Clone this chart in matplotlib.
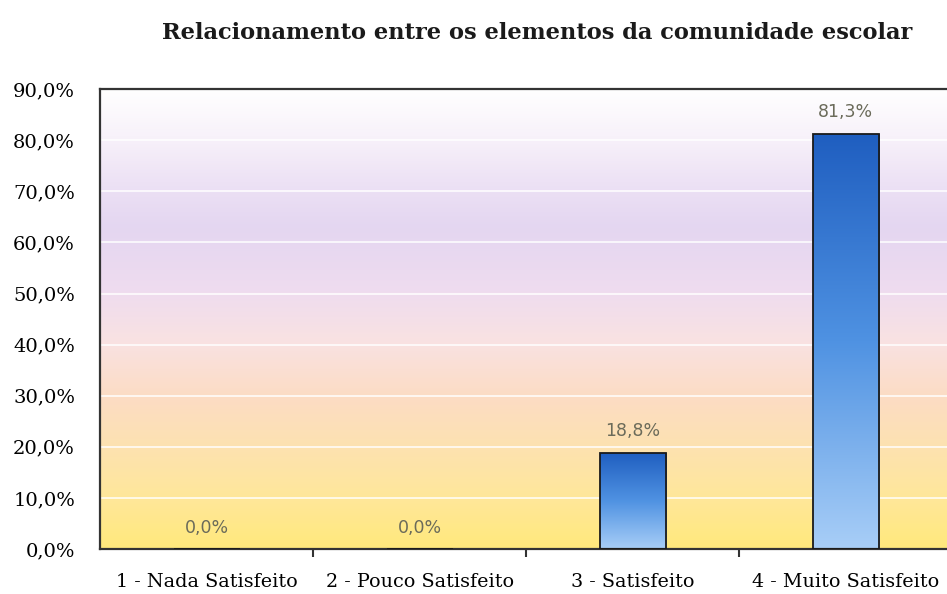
import numpy as np
import matplotlib
matplotlib.use("Agg")
import matplotlib.pyplot as plt
from matplotlib.colors import LinearSegmentedColormap

categories = ["1 - Nada Satisfeito", "2 - Pouco Satisfeito", "3 - Satisfeito", "4 - Muito Satisfeito"]
values = [0.0, 0.0, 18.8, 81.3]
yticks = [0, 10, 20, 30, 40, 50, 60, 70, 80, 90]
title = "Relacionamento entre os elementos da comunidade escolar"

fig = plt.figure(figsize=(9.47, 5.94), dpi=100)
ax = fig.add_axes([0.1056, 0.0758, 0.9, 0.774])

x = np.arange(len(categories))
ax.set_xlim(-0.5, len(categories) - 0.5)
ax.set_ylim(0, 90)

# background gradient (yellow -> peach -> pink -> lavender -> white)
bg = LinearSegmentedColormap.from_list("bg", [
    (0.0, "#ffe97c"), (0.11, "#ffe79a"), (0.22, "#fde2b0"), (0.33, "#fcdcc4"),
    (0.45, "#f9e2e2"), (0.56, "#efdcef"), (0.70, "#e4d6f1"), (0.80, "#ede2f5"),
    (0.90, "#f8f2fa"), (1.0, "#ffffff")])
grad = np.linspace(0, 1, 256).reshape(-1, 1)
ax.imshow(grad, extent=(-0.5, len(categories) - 0.5, 0, 90), origin="lower",
          aspect="auto", cmap=bg, zorder=0)

for t in yticks[1:-1]:
    ax.axhline(t, color="white", lw=1.2, alpha=0.9, zorder=1)

bar_cmap = LinearSegmentedColormap.from_list("bar", ["#a8cef7", "#4f92e2", "#1f5ec0"])
bars = ax.bar(x, values, width=0.31, color="none", edgecolor="#1a1a1a", lw=1.3, zorder=3)
for b, v in zip(bars, values):
    if v > 0:
        im = ax.imshow(grad, extent=(b.get_x(), b.get_x() + b.get_width(), 0, v),
                       origin="lower", aspect="auto", cmap=bar_cmap, zorder=2)
        im.set_clip_path(b)
    ax.text(b.get_x() + b.get_width() / 2, v + 4.2, f"{v:.1f}%".replace(".", ","),
            ha="center", va="center", fontsize=12.5, color="#6b6b5a",
            family="DejaVu Sans")

ax.set_xlim(-0.5, len(categories) - 0.5)
ax.set_ylim(0, 90)
ax.set_yticks(yticks)
ax.set_yticklabels([f"{t:.1f}%".replace(".", ",") for t in yticks],
                   fontsize=14, family="DejaVu Serif", color="#000000")
ax.set_xticks(x)
ax.set_xticklabels(categories, fontsize=13.8, family="DejaVu Serif", color="#000000")
ax.set_xticks(np.arange(0.5, len(categories) - 0.5, 1), minor=True)
ax.tick_params(axis="x", which="major", length=0, pad=17)
ax.tick_params(axis="x", which="minor", length=6, width=1.5, color="#333333", direction="out")
ax.tick_params(axis="y", length=0, pad=18)

for s in ["left", "bottom", "top"]:
    ax.spines[s].set_color("#333333")
    ax.spines[s].set_linewidth(1.6)
ax.spines["right"].set_visible(False)

fig.text(0.567, 0.945, title, ha="center", va="center", fontsize=16.2,
         family="DejaVu Serif", fontweight="bold", color="#1a1a1a")

fig.savefig("out.png", dpi=100)
